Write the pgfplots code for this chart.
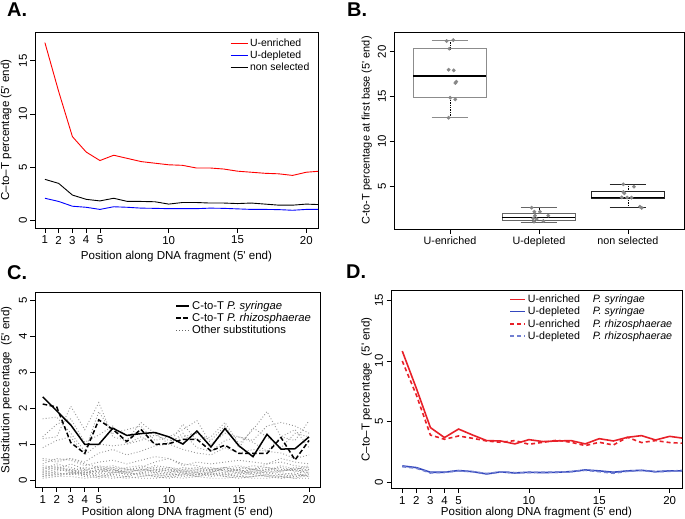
\documentclass[border=0pt]{standalone}
\usepackage{fontspec}
\setmainfont{Liberation Sans}
\usepackage{pgfplots}
\usepackage{pgfplotstable}
\pgfplotsset{compat=1.18}
\usepgfplotslibrary{statistics}
\newcommand\ap{\textquotesingle}
\definecolor{rred}{RGB}{255,0,0}
\definecolor{rblue}{RGB}{0,0,255}
\definecolor{dred}{RGB}{232,32,40}
\definecolor{dblue}{RGB}{52,72,190}
\definecolor{othgray}{RGB}{150,150,150}
\definecolor{ptgray}{RGB}{135,135,135}

\pgfplotstableread{
x red blue black
1 16.7 2.05 3.83
2 12.1 1.75 3.45
3 7.85 1.30 2.35
4 6.4 1.20 1.95
5 5.6 1.00 1.80
6 6.1 1.25 2.05
7 5.8 1.20 1.75
8 5.5 1.12 1.75
9 5.35 1.10 1.72
10 5.2 1.07 1.50
11 5.15 1.07 1.65
12 4.9 1.07 1.65
13 4.9 1.12 1.60
14 4.8 1.10 1.60
15 4.6 1.05 1.55
16 4.5 1.00 1.60
17 4.4 1.00 1.50
18 4.35 0.98 1.40
19 4.2 0.92 1.40
20 4.5 1.00 1.50
21 4.6 1.00 1.45
}\tabA

\pgfplotstableread{
x syr rhi
1 2.31 2.11
2 1.92 2.03
3 1.53 1.04
4 0.99 0.74
5 0.99 1.67
6 1.44 1.41
7 1.24 1.07
8 1.29 1.41
9 1.32 0.99
10 1.20 1.01
11 1.00 1.13
12 1.36 1.13
13 0.92 0.81
14 1.43 0.97
15 0.95 0.74
16 0.65 0.74
17 1.27 0.74
18 0.86 1.18
19 0.87 0.56
20 1.20 1.10
}\tabC

\pgfplotstableread{
x rs bs rd bd
1 10.81 1.37 9.99 1.31
2 7.75 1.23 7.20 1.18
3 4.52 0.85 3.91 0.79
4 3.70 0.85 3.56 0.85
5 4.40 0.99 3.83 0.96
6 3.91 0.90 3.64 0.90
7 3.45 0.71 3.42 0.74
8 3.42 0.88 3.31 0.88
9 3.18 0.79 3.45 0.82
10 3.53 0.85 3.15 0.82
11 3.37 0.82 3.31 0.85
12 3.42 0.85 3.48 0.85
13 3.45 0.90 3.31 0.90
14 3.18 1.04 3.04 1.01
15 3.61 0.96 3.31 0.90
16 3.42 0.85 3.09 0.77
17 3.72 0.96 3.72 0.93
18 3.86 1.01 3.29 0.99
19 3.50 0.90 3.45 0.88
20 3.80 0.96 3.29 0.93
21 3.64 0.96 3.23 1.01
}\tabD

\pgfplotsset{
  rstyle/.style={
    scale only axis,
    axis line style={line width=0.7bp},
    every tick/.style={black, line width=0.6bp},
    tick align=outside,
    major tick length=4.5bp,
    xtick pos=bottom, ytick pos=left,
    tick label style={font=\fontsize{11.5}{13}\selectfont},
    /pgf/number format/assume math mode=true,
    yticklabel style={rotate=90, anchor=south},
    label style={font=\fontsize{11.6}{13}\selectfont},
    xlabel style={anchor=center},
    ylabel style={anchor=center},
    legend style={draw=none, fill=none, font=\fontsize{10.5}{12}\selectfont, inner sep=0pt, row sep=-2bp, anchor=north west},
    legend cell align=left,
    legend image code/.code={\draw[##1] (0bp,0bp) -- (17bp,0bp);},
  },
  limgC/.style={legend image code/.code={\draw[##1] (0bp,0bp) -- (13bp,0bp);}},
  limgD/.style={legend image code/.code={\draw[##1] (0bp,0bp) -- (15bp,0bp);}},
  oth/.style={othgray, line width=0.9bp, dash pattern=on 0.9bp off 2.1bp, forget plot},
}

\begin{document}
\begin{tikzpicture}
\useasboundingbox (0,0) rectangle (685bp,-519bp);
\node[font=\fontsize{20}{20}\selectfont\bfseries, anchor=west, inner sep=0] at (7bp,-10bp) {A.};
\node[font=\fontsize{20}{20}\selectfont\bfseries, anchor=west, inner sep=0] at (347bp,-10bp) {B.};
\node[font=\fontsize{20}{20}\selectfont\bfseries, anchor=west, inner sep=0] at (7bp,-273bp) {C.};
\node[font=\fontsize{20}{20}\selectfont\bfseries, anchor=west, inner sep=0] at (346bp,-272bp) {D.};

% ---------------- A
\begin{axis}[rstyle, at={(35bp,-32bp)}, anchor=north west,
  width=283bp, height=196bp,
  xmin=0.28, xmax=20.85, ymin=-0.75, ymax=17.7,
  xtick={1,2,3,4,5,10,15,20}, ytick={0,5,10,15},
  xlabel={Position along DNA fragment (5\ap\ end)},
  ylabel={C--to--T percentage (5\ap\ end)},
  xlabel style={at={(axis description cs:0.5,-0.143)}},
  ylabel style={at={(axis description cs:-0.102,0.5)}},
  legend style={at={(axis description cs:0.689,0.975)}, row sep=-1bp},
]
\addplot[rred, line width=0.9bp] table[x=x,y=red]{\tabA};
\addlegendentry{U-enriched}
\addplot[rblue, line width=0.9bp] table[x=x,y=blue]{\tabA};
\addlegendentry{U-depleted}
\addplot[black, line width=0.9bp] table[x=x,y=black]{\tabA};
\addlegendentry{non selected}
\end{axis}

% ---------------- B
\begin{axis}[rstyle, at={(394bp,-32bp)}, anchor=north west,
  width=290bp, height=197bp,
  xmin=0.371, xmax=3.63, ymin=0.2, ymax=22.2,
  xtick={1,2,3}, xticklabels={U-enriched,U-depleted,non selected},
  ytick={5,10,15,20},
  xticklabel style={font=\fontsize{10.8}{12}\selectfont},
  ylabel={C-to-T percentage at first base (5\ap\ end)},
  ylabel style={at={(axis description cs:-0.094,0.5)}, font=\fontsize{11}{13}\selectfont},
  boxplot/draw direction=y,
  boxplot/draw/lower whisker/.code={
    \draw[black, densely dotted, line width=0.7bp] (boxplot cs:\pgfplotsboxplotvalue{lower whisker}) -- (boxplot cs:\pgfplotsboxplotvalue{lower quartile});
    \draw (boxplot whisker cs:\pgfplotsboxplotvalue{lower whisker},0) -- (boxplot whisker cs:\pgfplotsboxplotvalue{lower whisker},1);
  },
  boxplot/draw/upper whisker/.code={
    \draw[black, densely dotted, line width=0.7bp] (boxplot cs:\pgfplotsboxplotvalue{upper whisker}) -- (boxplot cs:\pgfplotsboxplotvalue{upper quartile});
    \draw (boxplot whisker cs:\pgfplotsboxplotvalue{upper whisker},0) -- (boxplot whisker cs:\pgfplotsboxplotvalue{upper whisker},1);
  },
  boxplot/every median/.style={black, line width=1.3bp},
]
\addplot[draw=black!45, line width=0.8bp, boxplot prepared={draw position=1, lower whisker=12.63, lower quartile=14.87, median=17.28, upper quartile=20.33, upper whisker=21.3, box extend=0.82, whisker extend=0.41}] coordinates {};
\addplot[draw=black!60, line width=0.8bp, boxplot prepared={draw position=2, lower whisker=0.95, lower quartile=1.2, median=1.46, upper quartile=1.95, upper whisker=2.58, box extend=0.82, whisker extend=0.41}] coordinates {};
\addplot[draw=black!85, line width=0.8bp, boxplot prepared={draw position=3, lower whisker=2.6, lower quartile=3.66, median=3.72, upper quartile=4.45, upper whisker=5.19, box extend=0.82, whisker extend=0.41}] coordinates {};
\addplot[only marks, mark=*, mark size=1.7bp, color=ptgray, mark options={draw=ptgray, fill=ptgray}] coordinates {
(0.963,21.19)(1.037,21.3)(0.992,20.33)(0.985,17.99)(1.042,17.92)(1.071,16.65)(1.06,16.5)(1.003,14.86)(1.06,14.68)(0.985,12.63)
(1.918,2.58)(1.948,2.13)(2.011,2.13)(2.105,1.69)(1.955,1.69)(1.936,1.39)(1.974,1.32)(2.049,1.09)(1.944,1.02)
(2.948,5.19)(3.067,4.93)(2.948,4.33)(2.96,4.19)(2.93,3.73)(2.99,3.72)(3.04,3.7)(3.135,2.69)(3.154,2.56)
};
\end{axis}

% ---------------- C
\begin{axis}[rstyle, limgC, at={(35bp,-292.7bp)}, anchor=north west,
  width=285bp, height=194.6bp,
  xmin=0.45, xmax=20.78, ymin=-0.2, ymax=5.2,
  xtick={1,2,3,4,5,10,15,20}, ytick={0,1,2,3,4,5},
  xlabel={Position along DNA fragment (5\ap\ end)},
  ylabel={Substitution percentage\ \ (5\ap\ end)},
  xlabel style={at={(axis description cs:0.5,-0.13)}},
  ylabel style={at={(axis description cs:-0.1,0.5)}},
  legend style={at={(axis description cs:0.493,0.968)}, font=\fontsize{11.3}{12}\selectfont, row sep=-1.5bp},
]
\addplot[oth] coordinates {(1,1.15)(2,1.2)(3,2.05)(4,1.4)(5,2.15)(6,1.2)(7,1.1)(8,1.6)(9,1.3)(10,1.0)(11,1.55)(12,1.1)(13,1.2)(14,1.6)(15,1.0)(16,1.4)(17,1.9)(18,1.2)(19,1.1)(20,1.65)};
\addplot[oth] coordinates {(1,1.7)(2,1.75)(3,1.3)(4,0.8)(5,1.9)(6,1.3)(7,1.4)(8,1.5)(9,1.1)(10,1.2)(11,1.4)(12,1.65)(13,1.0)(14,1.3)(15,1.2)(16,1.1)(17,1.5)(18,1.6)(19,1.5)(20,1.3)};
\addplot[oth] coordinates {(1,1.2)(2,1.55)(3,1.7)(4,1.05)(5,1.25)(6,1.5)(7,1.0)(8,1.1)(9,1.25)(10,1.1)(11,1.2)(12,1.3)(13,1.1)(14,1.5)(15,0.9)(16,1.45)(17,1.2)(18,0.9)(19,1.3)(20,1.2)};
\addplot[oth] coordinates {(1,0.9)(2,1.1)(3,1.2)(4,0.7)(5,1.0)(6,0.95)(7,1.0)(8,1.2)(9,1.0)(10,1.0)(11,1.3)(12,0.9)(13,0.8)(14,1.1)(15,1.2)(16,1.05)(17,0.8)(18,1.2)(19,1.4)(20,0.9)};
\addplot[oth] coordinates {(1,0.6)(2,0.55)(3,0.6)(4,0.5)(5,0.75)(6,0.85)(7,0.7)(8,0.8)(9,0.95)(10,1.0)(11,0.85)(12,0.75)(13,0.7)(14,0.9)(15,0.75)(16,0.85)(17,0.8)(18,0.75)(19,0.6)(20,0.7)};
\addplot[oth] coordinates {(1,0.45)(2,0.6)(3,0.55)(4,0.4)(5,0.5)(6,0.55)(7,0.45)(8,0.55)(9,0.65)(10,0.6)(11,0.4)(12,0.5)(13,0.45)(14,0.5)(15,0.55)(16,0.5)(17,0.45)(18,0.6)(19,0.5)(20,0.45)};
\addplot[oth] coordinates {(1,0.30)(2,0.45)(3,0.35)(4,0.25)(5,0.40)(6,0.30)(7,0.20)(8,0.30)(9,0.25)(10,0.20)(11,0.30)(12,0.25)(13,0.20)(14,0.35)(15,0.25)(16,0.30)(17,0.20)(18,0.25)(19,0.35)(20,0.25)};
\addplot[oth] coordinates {(1,0.20)(2,0.30)(3,0.25)(4,0.15)(5,0.30)(6,0.25)(7,0.15)(8,0.20)(9,0.30)(10,0.25)(11,0.20)(12,0.15)(13,0.25)(14,0.20)(15,0.30)(16,0.15)(17,0.25)(18,0.20)(19,0.15)(20,0.30)};
\addplot[oth] coordinates {(1,0.10)(2,0.15)(3,0.20)(4,0.10)(5,0.15)(6,0.10)(7,0.05)(8,0.10)(9,0.15)(10,0.10)(11,0.20)(12,0.10)(13,0.15)(14,0.10)(15,0.05)(16,0.10)(17,0.15)(18,0.10)(19,0.05)(20,0.15)};
\addplot[oth] coordinates {(1,0.40)(2,0.35)(3,0.30)(4,0.20)(5,0.25)(6,0.35)(7,0.30)(8,0.25)(9,0.40)(10,0.35)(11,0.25)(12,0.30)(13,0.35)(14,0.25)(15,0.30)(16,0.40)(17,0.35)(18,0.30)(19,0.25)(20,0.30)};
\addplot[oth] coordinates {(1,0.15)(2,0.25)(3,0.30)(4,0.15)(5,0.20)(6,0.15)(7,0.20)(8,0.15)(9,0.10)(10,0.15)(11,0.15)(12,0.20)(13,0.10)(14,0.15)(15,0.20)(16,0.15)(17,0.10)(18,0.15)(19,0.20)(20,0.10)};
\addplot[oth] coordinates {(1,0.25)(2,0.20)(3,0.15)(4,0.25)(5,0.10)(6,0.20)(7,0.25)(8,0.35)(9,0.20)(10,0.30)(11,0.25)(12,0.20)(13,0.30)(14,0.25)(15,0.20)(16,0.25)(17,0.30)(18,0.35)(19,0.25)(20,0.20)};
\addplot[oth] coordinates {(1,0.05)(2,0.10)(3,0.10)(4,0.05)(5,0.10)(6,0.05)(7,0.10)(8,0.05)(9,0.05)(10,0.10)(11,0.05)(12,0.10)(13,0.05)(14,0.05)(15,0.10)(16,0.05)(17,0.05)(18,0.10)(19,0.05)(20,0.05)};
\addplot[oth] coordinates {(1,0.35)(2,0.30)(3,0.45)(4,0.30)(5,0.35)(6,0.25)(7,0.35)(8,0.40)(9,0.30)(10,0.25)(11,0.35)(12,0.30)(13,0.25)(14,0.30)(15,0.35)(16,0.30)(17,0.25)(18,0.40)(19,0.30)(20,0.35)};
\addplot[oth] coordinates {(1,0.20)(2,0.15)(3,0.20)(4,0.30)(5,0.20)(6,0.30)(7,0.15)(8,0.20)(9,0.20)(10,0.15)(11,0.25)(12,0.20)(13,0.15)(14,0.20)(15,0.10)(16,0.20)(17,0.20)(18,0.15)(19,0.10)(20,0.20)};
\addplot[oth] coordinates {(1,0.10)(2,0.20)(3,0.15)(4,0.20)(5,0.25)(6,0.20)(7,0.25)(8,0.10)(9,0.15)(10,0.20)(11,0.10)(12,0.15)(13,0.20)(14,0.10)(15,0.15)(16,0.25)(17,0.10)(18,0.05)(19,0.15)(20,0.10)};
\addplot[oth] coordinates {(1,0.55)(2,0.50)(3,0.60)(4,0.45)(5,0.35)(6,0.40)(7,0.30)(8,0.35)(9,0.50)(10,0.60)(11,0.45)(12,0.40)(13,0.30)(14,0.35)(15,0.40)(16,0.30)(17,0.45)(18,0.50)(19,0.40)(20,0.35)};
\addplot[oth] coordinates {(1,0.30)(2,0.40)(3,0.25)(4,0.35)(5,0.30)(6,0.20)(7,0.30)(8,0.25)(9,0.35)(10,0.30)(11,0.20)(12,0.25)(13,0.30)(14,0.35)(15,0.25)(16,0.20)(17,0.30)(18,0.25)(19,0.30)(20,0.40)};
\addplot[oth] coordinates {(1,0.15)(2,0.10)(3,0.20)(4,0.15)(5,0.05)(6,0.15)(7,0.10)(8,0.20)(9,0.10)(10,0.05)(11,0.15)(12,0.10)(13,0.20)(14,0.15)(15,0.10)(16,0.10)(17,0.15)(18,0.05)(19,0.10)(20,0.15)};
\addplot[oth] coordinates {(1,0.25)(2,0.35)(3,0.20)(4,0.20)(5,0.30)(6,0.35)(7,0.20)(8,0.30)(9,0.25)(10,0.35)(11,0.30)(12,0.35)(13,0.25)(14,0.30)(15,0.20)(16,0.30)(17,0.35)(18,0.25)(19,0.30)(20,0.20)};
\addplot[black, line width=1.5bp] table[x=x,y=syr]{\tabC};
\addlegendentry{C-to-T \textit{P. syringae}}
\addplot[black, line width=1.5bp, dash pattern=on 4.5bp off 2.5bp] table[x=x,y=rhi]{\tabC};
\addlegendentry{C-to-T \textit{P. rhizosphaerae}}
\addlegendimage{black!60, line width=0.9bp, dash pattern=on 0.9bp off 2.1bp}
\addlegendentry{Other substitutions}
\end{axis}

% ---------------- D
\begin{axis}[rstyle, limgD, at={(391bp,-290.7bp)}, anchor=north west,
  width=291bp, height=197.6bp,
  xmin=0.2, xmax=20.88, ymin=-0.47, ymax=15.77,
  xtick={1,2,3,4,5,10,15,20}, ytick={0,5,10,15},
  xlabel={Position along DNA fragment (5\ap\ end)},
  ylabel={C--to--T percentage\ \ (5\ap\ end)},
  xlabel style={at={(axis description cs:0.5,-0.122)}},
  ylabel style={at={(axis description cs:-0.0835,0.5)}},
  legend style={at={(axis description cs:0.406,0.99)}, font=\fontsize{10.7}{12}\selectfont, row sep=-1bp},
]
\addplot[color=dred, line width=1.6bp] table[x=x,y=rs]{\tabD};
\addlegendentry{\makebox[65bp][l]{U-enriched}\textit{P. syringae}}
\addplot[color=dblue, line width=1.6bp] table[x=x,y=bs]{\tabD};
\addlegendentry{\makebox[65bp][l]{U-depleted}\textit{P. syringae}}
\addplot[color=dred, line width=1.6bp, dash pattern=on 4bp off 3bp] table[x=x,y=rd]{\tabD};
\addlegendentry{\makebox[65bp][l]{U-enriched}\textit{P. rhizosphaerae}}
\addplot[color=dblue!70!white, line width=1.6bp, dash pattern=on 4bp off 3bp] table[x=x,y=bd]{\tabD};
\addlegendentry{\makebox[65bp][l]{U-depleted}\textit{P. rhizosphaerae}}
\end{axis}
\end{tikzpicture}
\end{document}
